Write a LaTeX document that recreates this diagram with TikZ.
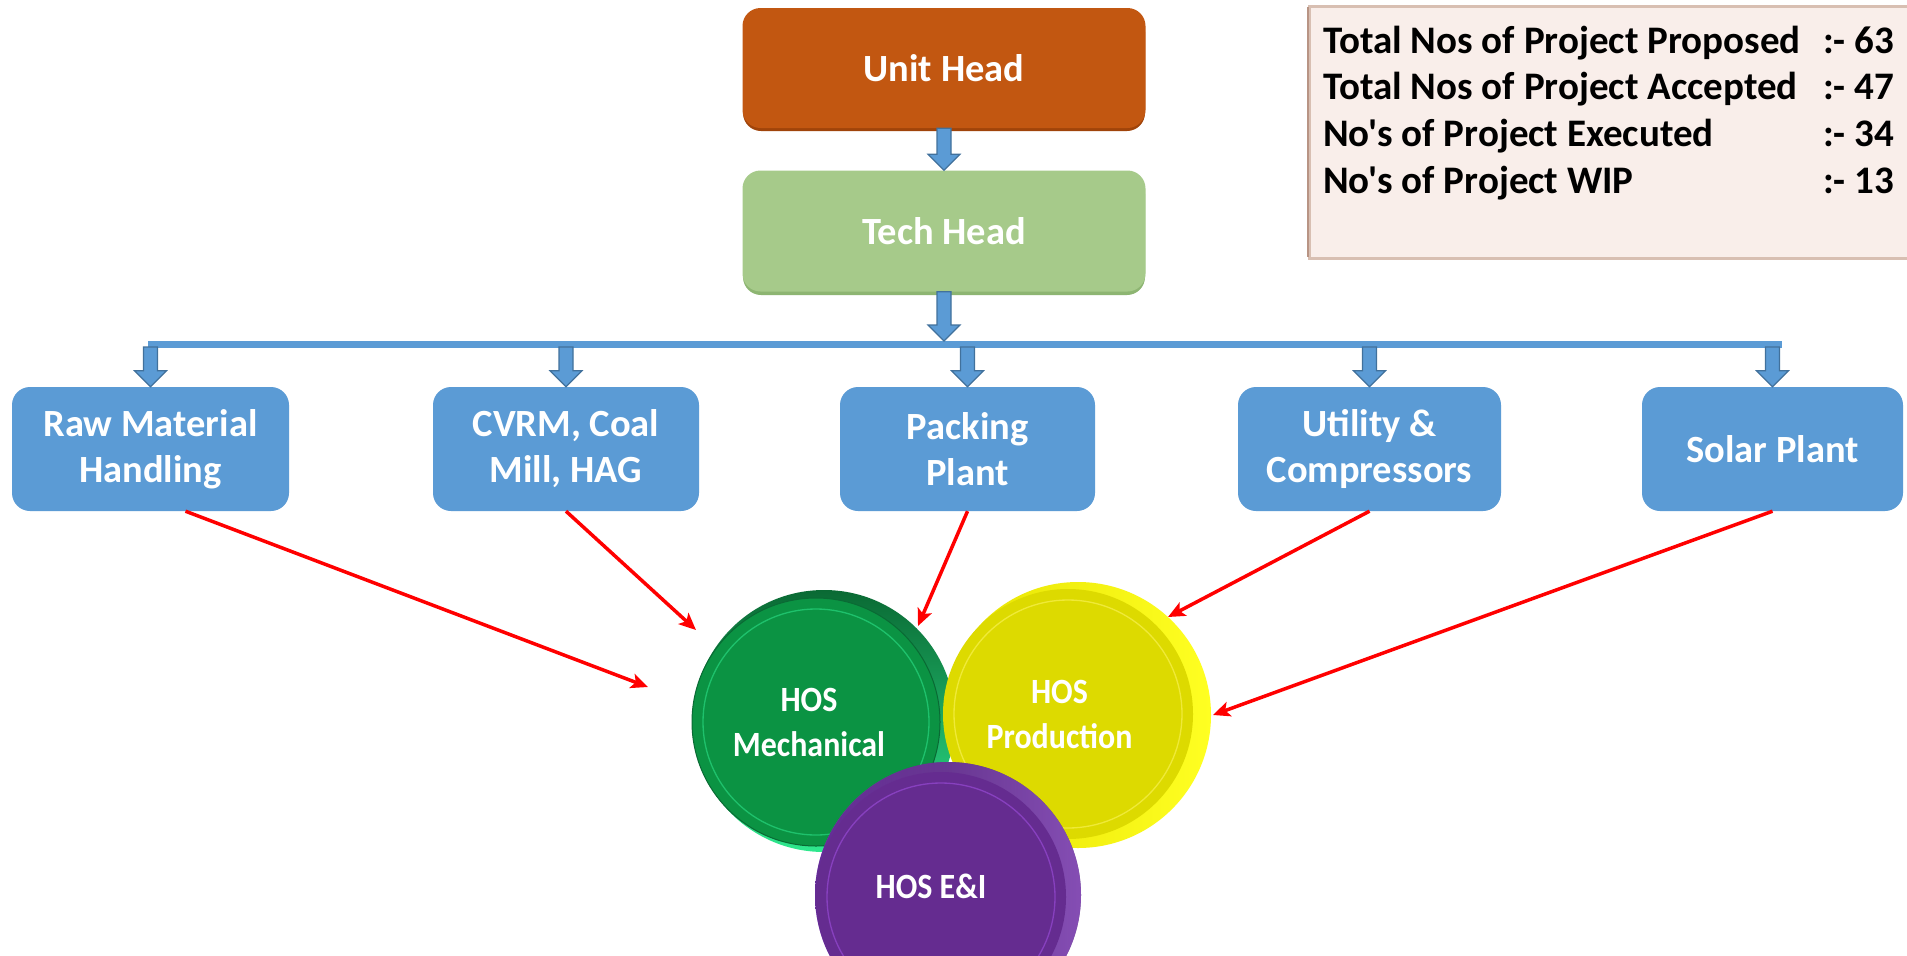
\documentclass[tikz,border=0pt]{standalone}
\usepackage{fontspec}
\setmainfont{Carlito}[Ligatures=TeXOff]
\newfontfamily\coinfont{Carlito}[FakeStretch=0.9]
\usetikzlibrary{calc,arrows.meta}
\definecolor{unitfill}{HTML}{C25711}
\definecolor{unitedge}{HTML}{A0440A}
\definecolor{techfill}{HTML}{A6CA8A}
\definecolor{techedge}{HTML}{8DB572}
\definecolor{boxblue}{HTML}{5B9BD5}
\definecolor{arrowedge}{HTML}{41719C}
\definecolor{statsfill}{HTML}{F9EEEA}
\definecolor{statsdraw}{HTML}{D8BFB2}
\definecolor{statsdark}{HTML}{B89484}
\definecolor{greenface}{HTML}{0B9343}
\definecolor{greenrimA}{HTML}{2FE88E}
\definecolor{greenrimB}{HTML}{0A6A34}
\definecolor{yellowface}{HTML}{DDDA00}
\definecolor{yellowrimA}{HTML}{E6E200}
\definecolor{yellowrimB}{HTML}{FFFF22}
\definecolor{purpleface}{HTML}{652C90}
\definecolor{purplerimA}{HTML}{A452E6}
\definecolor{purplerimB}{HTML}{3B1462}
\tikzset{
  hbox/.style={rounded corners=18pt, text=white, font=\bfseries\fontsize{38.5}{46}\selectfont, align=center, inner sep=0pt},
  bluebox/.style={hbox, fill=boxblue, minimum height=124pt},
  blockarr/.style={fill=boxblue, draw=arrowedge, line width=1.2pt, line join=miter},
  redarr/.style={draw=red, line width=3.5pt, -{Stealth[length=17pt,width=15pt,inset=4pt]}},
  coin/.style={circle, inner sep=0pt, text=white, font=\coinfont\bfseries\fontsize{35.5}{45}\selectfont, align=center},
  ring/.style={line width=1.3pt, opacity=0.55},
}
\newcommand\blockarrow[2]{%
  \filldraw[blockarr] let \p1=(#1), \p2=(#2) in
    (\x1-7pt,\y1) -- (\x1+7pt,\y1) -- (\x1+7pt,\y2+16pt) -- (\x1+16pt,\y2+16pt)
    -- (\x1,\y2) -- (\x1-16pt,\y2+16pt) -- (\x1-7pt,\y2+16pt) -- cycle;}
\newcommand\padr[1]{\rule{#1}{0pt}}
\begin{document}
\begin{tikzpicture}[x=1pt,y=-1pt]
\useasboundingbox (0,0) rectangle (1907,956);
\clip (0,0) rectangle (1907,956);
\fill[white] (0,0) rectangle (1907,956);

% stats panel
\draw[fill=statsfill, draw=statsdraw, line width=3pt] (1309,6) rectangle (1925,258);
\draw[statsdark, line width=2pt] (1308,7) -- (1308,257);
\node[anchor=base west, inner sep=0pt, font=\bfseries\fontsize{39}{46.7}\selectfont] (stats) at (1323,53)
  {\begin{tabular}[t]{@{}p{500pt}@{}l@{}}
   Total Nos of Project Proposed & :- 63\\
   Total Nos of Project Accepted & :- 47\\
   No's of Project Executed & :- 34\\
   No's of Project WIP & :- 13
   \end{tabular}};

% top boxes
\fill[unitedge, rounded corners=18pt] (743,14) rectangle (1145,131);
\node[hbox, fill=unitfill, minimum width=403pt, minimum height=120pt] (unit) at (944,68) {Unit Head};
\fill[techedge, rounded corners=18pt] (743,176) rectangle (1145,295);
\node[hbox, fill=techfill, minimum width=403pt, minimum height=121pt] (tech) at (944,231) {Tech Head};

% department boxes
\node[bluebox, minimum width=277pt] (raw) at (150.5,449) {Raw Material\\Handling};
\node[bluebox, minimum width=266pt] (cvrm) at (566,449) {CVRM, Coal\\Mill, HAG};
\node[bluebox, minimum width=255pt] (pack) at (967.5,449) {Packing\\Plant};
\node[bluebox, minimum width=263pt] (util) at (1369.5,449) {Utility \&\\Compressors};
\node[bluebox, minimum width=261pt] (solar) at (1772.5,449) {Solar Plant};

% distribution bar
\coordinate (barL) at (148,344);
\coordinate (barR) at (1782,344);
\coordinate (barT) at (944,341);
\coordinate (barB) at (944,347);
\draw[boxblue, line width=7pt] (barL) -- (barR);

% block arrows
\blockarrow{unit.south}{tech.north}
\blockarrow{tech.south}{barT}
\blockarrow{raw.north |- barB}{raw.north}
\blockarrow{cvrm.north |- barB}{cvrm.north}
\blockarrow{pack.north |- barB}{pack.north}
\blockarrow{util.north |- barB}{util.north}
\blockarrow{solar.north |- barB}{solar.north}

% coins
\shade[top color=greenrimB, bottom color=greenrimA] (824,721) circle (131);
\node[coin, fill=greenface, draw=greenrimB, line width=1pt, minimum size=248pt] (mech) at (816,722) {HOS\padr{14pt}\\Mechanical\padr{14pt}};
\draw[ring, draw=greenrimA] (mech.center) circle (113);

\shade[left color=yellowrimA, right color=yellowrimB] (1078,715) circle (133);
\node[coin, fill=yellowface, minimum size=250pt] (prod) at (1068,714) {HOS\padr{17pt}\\Production\padr{17pt}};
\draw[ring, draw=yellow!60!white] (prod.center) circle (114);

\shade[left color=purplerimA, right color=purplerimB, middle color=purpleface!80!black] (948,895) circle (133);
\shade[right color=purplerimA!80!white, left color=purplerimB, opacity=0.6] (948,895) circle (133);
\node[coin, fill=purpleface, minimum size=250pt, text depth=22pt] (ei) at (941,897) {HOS E\&I\padr{20pt}};
\draw[ring, draw=purplerimA] (ei.center) circle (114);

% red connectors
\coordinate (e1) at (648,687);
\coordinate (e2) at (696,630);
\coordinate (e3) at (918,626);
\coordinate (e4) at (1168,617);
\coordinate (e5) at (1213,715);
\draw[redarr] ($(raw.south)+(35,0)$) -- (e1);
\draw[redarr] (cvrm.south) -- (e2);
\draw[redarr] (pack.south) -- (e3);
\draw[redarr] (util.south) -- (e4);
\draw[redarr] (solar.south) -- (e5);
\end{tikzpicture}
\end{document}
